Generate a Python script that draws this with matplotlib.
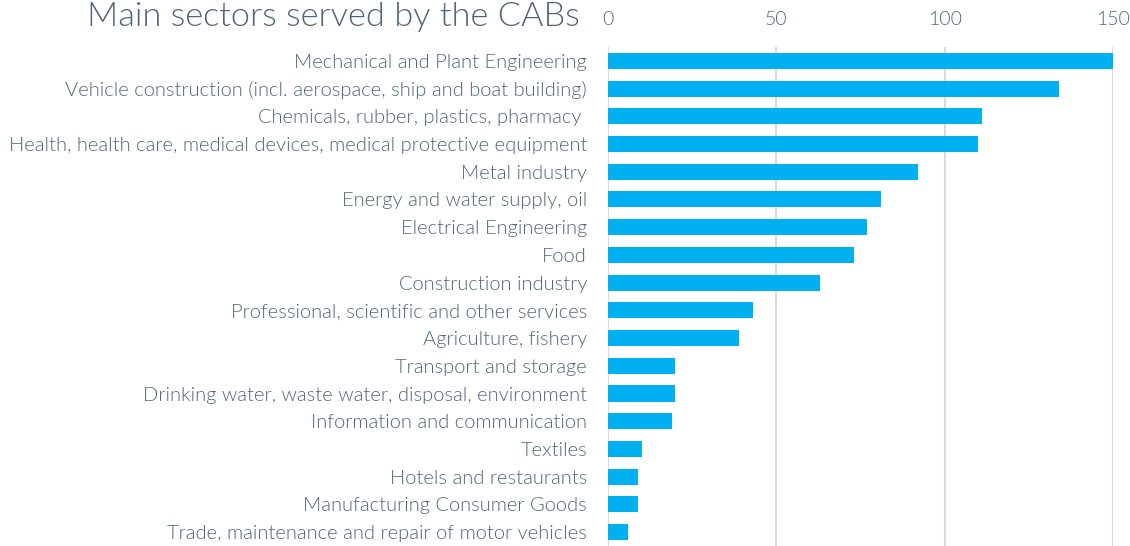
import matplotlib
matplotlib.use("Agg")
import matplotlib.pyplot as plt

sectors = [
    "Mechanical and Plant Engineering",
    "Vehicle construction (incl. aerospace, ship and boat building)",
    "Chemicals, rubber, plastics, pharmacy ",
    "Health, health care, medical devices, medical protective equipment",
    "Metal industry",
    "Energy and water supply, oil",
    "Electrical Engineering",
    "Food",
    "Construction industry",
    "Professional, scientific and other services",
    "Agriculture, fishery",
    "Transport and storage",
    "Drinking water, waste water, disposal, environment",
    "Information and communication",
    "Textiles",
    "Hotels and restaurants",
    "Manufacturing Consumer Goods",
    "Trade, maintenance and repair of motor vehicles",
]
counts = [150, 134, 111, 110, 92, 81, 77, 73, 63, 43, 39, 20, 20, 19, 10, 9, 9, 6]
ticks = [0, 50, 100, 150]

text_col = "#506578"
bar_col = "#00b0f0"
grid_col = "#d5dde3"

plt.rcParams["font.family"] = ["Lato", "DejaVu Sans"]

fig = plt.figure(figsize=(11.3, 5.46), dpi=100)
ax = fig.add_axes([0.538, 0.0, 0.447, 0.914])

ypos = list(range(len(sectors)))
ax.barh(ypos, counts, height=0.58, color=bar_col, zorder=3)
ax.set_ylim(len(sectors) - 0.5, -0.5)
ax.set_xlim(0, 150)
ax.set_yticks(ypos)
ax.set_yticklabels(sectors, fontsize=14.5, color=text_col, fontweight=300)
ax.xaxis.tick_top()
ax.set_xticks(ticks)
ax.set_xticklabels([str(t) for t in ticks], fontsize=14, color=text_col, fontweight=300)
ax.tick_params(axis="both", length=0)
ax.tick_params(axis="x", pad=14)
ax.tick_params(axis="y", pad=15)
ax.grid(axis="x", color=grid_col, lw=1.5, zorder=0)
for s in ax.spines.values():
    s.set_visible(False)

fig.text(0.513, 0.968, "Main sectors served by the CABs", fontsize=24.75, color=text_col,
         fontweight=300, ha="right", va="center")

fig.savefig("out.png", dpi=100)
